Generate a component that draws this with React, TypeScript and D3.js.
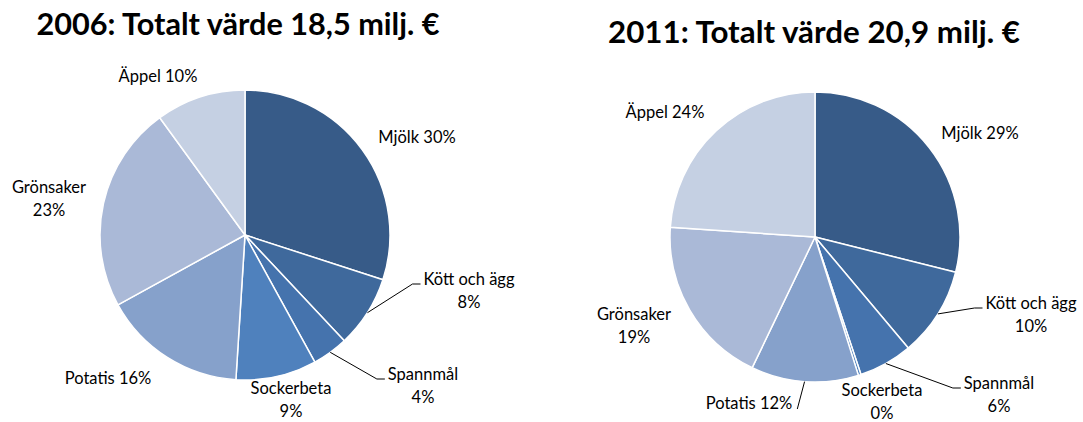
import { useEffect, useRef } from 'react';
import * as d3 from 'd3';

const categories = ['Mjölk', 'Kött och ägg', 'Spannmål', 'Sockerbeta', 'Potatis', 'Grönsaker', 'Äppel'];
const values2006 = [30, 8, 4, 9, 16, 23, 10];
const values2011 = [29, 10, 6, 0.3, 12, 19, 24];
const titles = ['2006: Totalt värde 18,5 milj. €', '2011: Totalt värde 20,9 milj. €'];
const colors = ['#375b88', '#3f699c', '#4573ad', '#4f81bd', '#86a1cb', '#aab9d7', '#c5d0e3'];

// label placement relative to pie centre (layout only)
const layout = [
  {
    cx: 245, cy: 235, r: 145, titleX: 238, titleY: 35, titleW: 403, values: values2006, title: titles[0],
    labels: [
      { dx: 172, dy: -98, split: false, leader: null },
      { dx: 224, dy: 44, split: true, leader: 'left' },
      { dx: 178, dy: 139, split: true, leader: 'left' },
      { dx: 46, dy: 153, split: true, leader: null },
      { dx: -137, dy: 143, split: false, leader: null },
      { dx: -196, dy: -48, split: true, leader: null },
      { dx: -87, dy: -159, split: false, leader: null },
    ],
  },
  {
    cx: 815, cy: 237, r: 145, titleX: 814, titleY: 43, titleW: 412, values: values2011, title: titles[1],
    labels: [
      { dx: 165, dy: -104, split: false, leader: null },
      { dx: 216, dy: 66, split: true, leader: 'left' },
      { dx: 184, dy: 146, split: true, leader: 'left' },
      { dx: 67, dy: 153, split: true, leader: null },
      { dx: -66, dy: 166, split: false, leader: 'right' },
      { dx: -181, dy: 77, split: true, leader: null },
      { dx: -150, dy: -125, split: false, leader: null },
    ],
  },
];

const App = () => {
  const svgRef = useRef<SVGSVGElement>(null);

  useEffect(() => {
    document.body.style.margin = '0';
    const svg = d3.select(svgRef.current);
    svg.selectAll('*').remove();
    svg.attr('width', 1083).attr('height', 422).style('background', '#fff');

    const font = 'Lato, "Open Sans", sans-serif';
    const lineH = 23;

    layout.forEach(p => {
      const g = svg.append('g').attr('transform', `translate(${p.cx},${p.cy})`);
      const pie = d3.pie<number>().sort(null).value(d => d);
      const arcs = pie(p.values);
      const arc = d3.arc<d3.PieArcDatum<number>>().innerRadius(0).outerRadius(p.r);

      g.selectAll('path.slice')
        .data(arcs)
        .enter()
        .append('path')
        .attr('class', 'slice')
        .attr('d', arc)
        .attr('fill', (d, i) => colors[i])
        .attr('stroke', '#fff')
        .attr('stroke-width', 1.5)
        .attr('stroke-linejoin', 'round');

      svg.append('text')
        .attr('x', p.titleX)
        .attr('y', p.titleY)
        .attr('text-anchor', 'middle')
        .attr('font-family', font)
        .attr('font-weight', 'bold')
        .attr('font-size', 30)
        .attr('textLength', p.titleW)
        .attr('lengthAdjust', 'spacingAndGlyphs')
        .attr('fill', '#000')
        .text(p.title);

      arcs.forEach((a, i) => {
        const l = p.labels[i];
        const pct = `${Math.round(p.values[i])}%`;
        const lines = l.split ? [categories[i], pct] : [`${categories[i]} ${pct}`];
        const t = g.append('text')
          .attr('text-anchor', 'middle')
          .attr('font-family', font)
          .attr('font-size', 16.5)
          .attr('fill', '#000');
        lines.forEach((s, k) => {
          t.append('tspan')
            .attr('x', l.dx)
            .attr('y', l.dy + k * lineH)
            .attr('dy', '0.35em')
            .text(s);
        });

        if (l.leader) {
          const mid = (a.startAngle + a.endAngle) / 2;
          const px = Math.sin(mid) * p.r;
          const py = -Math.cos(mid) * p.r;
          const w = (t.select('tspan').node() as SVGTSpanElement).getComputedTextLength();
          let pts: [number, number][];
          if (l.leader === 'left') {
            const ex = l.dx - w / 2 - 3;
            const ey = l.dy + 5;
            pts = [[px, py], [ex - 8, ey], [ex, ey]];
          } else {
            pts = [[px, py], [l.dx + w / 2 + 5, l.dy + 6]];
          }
          g.append('path')
            .attr('d', d3.line()(pts))
            .attr('fill', 'none')
            .attr('stroke', '#000')
            .attr('stroke-width', 1);
        }
      });
    });
  }, []);

  return <svg ref={svgRef} />;
};

export default App;
